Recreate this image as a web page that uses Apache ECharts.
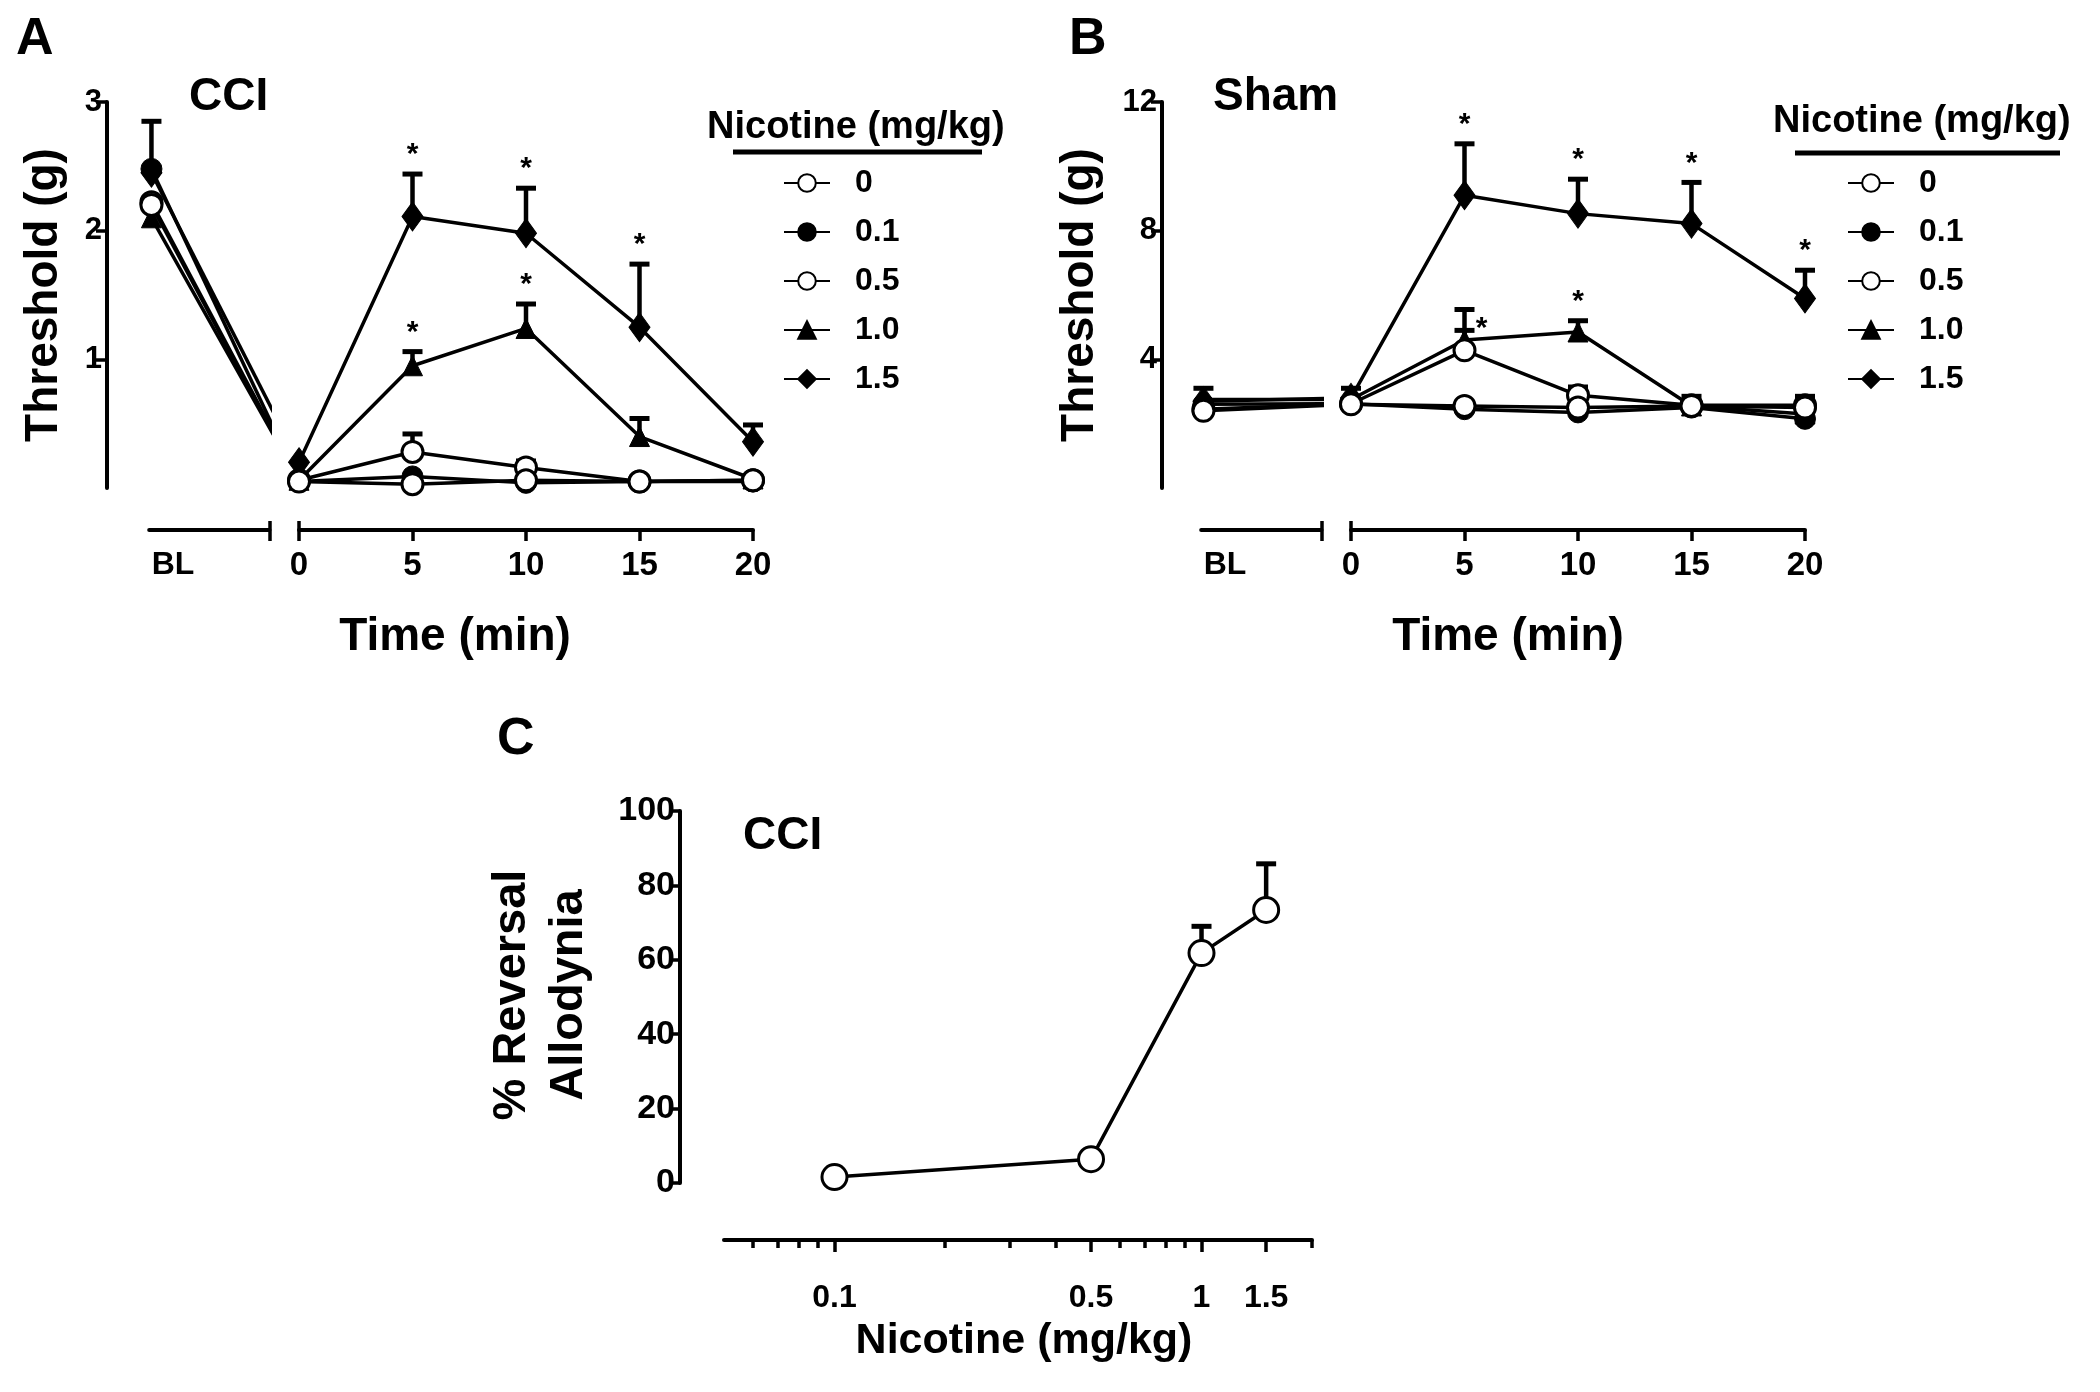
<!DOCTYPE html>
<html><head><meta charset="utf-8">
<script src="https://cdn.jsdelivr.net/npm/echarts@6/dist/echarts.min.js"></script>
<style>html,body{margin:0;padding:0;background:#fff}#chart{width:2100px;height:1392px}</style>
</head><body><div id="chart"></div>
<script>
// ---------------- DATA ----------------
const timePoints = [0, 5, 10, 15, 20];
const doseLabels = ['0', '0.1', '0.5', '1.0', '1.5'];

// Panel A: CCI, threshold (g). Baseline (BL) per dose, then per-dose values at timePoints
const cciBaseline       = [2.20, 2.48, 2.22, 2.10, 2.45];
const cciBaselineErrTop = [null, 2.85, null, null, null];
const cciDose0   = [0.05, 0.03, 0.06, 0.05, 0.06];
const cciDose01  = [0.05, 0.09, 0.04, 0.05, 0.05];
const cciDose05  = [0.06, 0.28, 0.16, 0.05, 0.06];
const cciDose10  = [0.06, 0.95, 1.24, 0.40, 0.07];
const cciDose15  = [0.20, 2.11, 1.98, 1.25, 0.36];
const cciErrTop05 = [null, 0.42, 0.21, null, null];
const cciErrTop10 = [null, 1.06, 1.43, 0.54, null];
const cciErrTop15 = [null, 2.44, 2.33, 1.74, 0.49];
const cciStars10 = [false, true, true, false, false];
const cciStars15 = [false, true, true, true, false];

// Panel B: Sham, threshold (g)
const shamBaseline       = [2.40, 2.60, 2.45, 2.75, 2.70];
const shamBaselineErrTop = [null, null, null, 3.10, null];
const shamDose0  = [2.60, 2.55, 2.50, 2.55, 2.50];
const shamDose01 = [2.62, 2.45, 2.35, 2.50, 2.15];
const shamDose05 = [2.62, 4.28, 2.88, 2.57, 2.57];
const shamDose10 = [2.75, 4.60, 4.85, 2.55, 2.30];
const shamDose15 = [2.80, 9.10, 8.53, 8.22, 5.89];
const shamErrTop05 = [null, 5.55, 3.14, 2.85, 2.85];
const shamErrTop10 = [3.10, 4.90, 5.20, null, null];
const shamErrTop15 = [null, 10.70, 9.60, 9.50, 6.77];
const shamStars10 = [false, true, true, false, false];
const shamStars15 = [false, true, true, true, true];

// Panel C: % reversal of allodynia (CCI)
const reversalDoses  = [0.1, 0.5, 1, 1.5];
const reversalPct    = [1.6, 6.4, 61.8, 73.4];
const reversalErrTop = [null, null, 69.0, 85.8];

// Tick labels
const yTicksA = [1, 2, 3];
const yTicksB = [4, 8, 12];
const yTicksC = [0, 20, 40, 60, 80, 100];
const xTicksCMajor = [0.1, 0.5, 1, 1.5];
const xTicksCMinor = [0.06, 0.07, 0.08, 0.09, 0.2, 0.3, 0.4, 0.6, 0.7, 0.8, 0.9, 2];

// ---------------- LAYOUT / STYLE ----------------
const FONT = "'Liberation Sans', Arial, Helvetica, sans-serif";
const PX = 22.7;            // px per minute
const BL_X = -6.5;          // baseline position on the time scale
const BL_MIN = -6.6;
const BREAK_X = -1.3;
const BL_LABEL_X = -5.55;
const A_T0 = 299, B_T0 = 1351;
const G_TOP = 102, G_H = 386;
const AXIS_W = 4;
const starSideB = {'1.0': [false, true, false, false, false]};

const doseStyles = [
  {symbol: 'circle', size: 21, color: '#ffffff'},
  {symbol: 'circle', size: 21, color: '#000000'},
  {symbol: 'circle', size: 21, color: '#ffffff'},
  {symbol: 'triangle', size: 20, color: '#000000'},
  {symbol: 'diamond', size: [21, 29], color: '#000000'}
];

const cciMeans = [cciDose0, cciDose01, cciDose05, cciDose10, cciDose15];
const cciErrs = [null, null, cciErrTop05, cciErrTop10, cciErrTop15];
const cciStars = [null, null, null, cciStars10, cciStars15];
const shamMeans = [shamDose0, shamDose01, shamDose05, shamDose10, shamDose15];
const shamErrs = [null, null, shamErrTop05, shamErrTop10, shamErrTop15];
const shamStars = [null, null, null, shamStars10, shamStars15];

function errRender(params, api) {
  const x = api.value(0), m = api.value(1), t = api.value(2);
  const a = api.coord([x, m]), b = api.coord([x, t]);
  return {type: 'group', children: [
    {type: 'line', shape: {x1: a[0], y1: a[1], x2: b[0], y2: b[1]}, style: {stroke: '#000', lineWidth: 4.5}},
    {type: 'line', shape: {x1: b[0] - 10, y1: b[1], x2: b[0] + 10, y2: b[1]}, style: {stroke: '#000', lineWidth: 5}}
  ]};
}
function starRender(params, api) {
  const x = api.value(0), t = api.value(1), side = api.value(2);
  const b = api.coord([x, t]);
  return {type: 'text', x: b[0] + (side ? 17 : 0), y: b[1] - (side ? 2 : 19),
    style: {text: '*', font: 'bold 30px ' + FONT, fill: '#000', textAlign: 'center', textVerticalAlign: 'middle'}};
}

function panelSeries(p) {
  const out = [];
  const errData = [], starData = [], blErr = [];
  [4, 3, 1, 2, 0].forEach(i => {
    const st = doseStyles[i];
    const common = {
      type: 'line', name: doseLabels[i], symbol: st.symbol, symbolSize: st.size,
      itemStyle: {color: st.color, borderColor: '#000', borderWidth: st.color === '#ffffff' ? 3 : 1},
      lineStyle: {color: '#000', width: 3.5}, animation: false, clip: true, z: 3
    };
    out.push(Object.assign({}, common, {xAxisIndex: p.xMain, yAxisIndex: p.yMain,
      data: timePoints.map((t, k) => [t, p.means[i][k]])}));
    out.push(Object.assign({}, common, {xAxisIndex: p.xBL, yAxisIndex: p.yBL,
      data: [[BL_X, p.baseline[i]], {value: [0, p.means[i][0]], symbol: 'none'}]}));
    if (p.errs[i]) p.errs[i].forEach((e, k) => { if (e != null) errData.push([timePoints[k], p.means[i][k], e]); });
    if (p.stars[i]) p.stars[i].forEach((s, k) => {
      if (s) {
        const side = p.side && p.side[doseLabels[i]] ? (p.side[doseLabels[i]][k] ? 1 : 0) : 0;
        starData.push([timePoints[k], p.errs[i][k], side]);
      }
    });
    if (p.baselineErr[i] != null) blErr.push([BL_X, p.baseline[i], p.baselineErr[i]]);
  });
  out.push({type: 'custom', name: 'err', xAxisIndex: p.xMain, yAxisIndex: p.yMain, renderItem: errRender, data: errData, z: 2, animation: false});
  out.push({type: 'custom', name: 'errBL', xAxisIndex: p.xBL, yAxisIndex: p.yBL, renderItem: errRender, data: blErr, z: 2, animation: false});
  out.push({type: 'custom', name: 'stars', xAxisIndex: p.xMain, yAxisIndex: p.yMain, renderItem: starRender, data: starData, z: 4, animation: false});
  return out;
}

const lineStyleAxis = {show: true, lineStyle: {color: '#000', width: AXIS_W}, onZero: false};
function ticks(len, vals, inside) { const o = {show: true, inside: !!inside, length: len, lineStyle: {color: '#000', width: 3.5}}; if (vals) o.customValues = vals; return o; }
function labels(size, extra) { return Object.assign({show: true, color: '#000', fontFamily: FONT, fontWeight: 'bold', fontSize: size}, extra || {}); }

const grids = [
  {left: A_T0 + BL_MIN * PX, top: G_TOP, width: (BREAK_X - BL_MIN) * PX, height: G_H},
  {left: A_T0, top: G_TOP, width: 20 * PX, height: G_H},
  {left: B_T0 + BL_MIN * PX, top: G_TOP, width: (BREAK_X - BL_MIN) * PX, height: G_H},
  {left: B_T0, top: G_TOP, width: 20 * PX, height: G_H},
  {left: 724, top: 811, width: 588, height: 372}
].map(g => Object.assign({show: false, containLabel: false, outerBoundsMode: 'none'}, g));

function blXAxis(grid) {
  return {type: 'value', gridIndex: grid, position: 'bottom', min: BL_MIN, max: BREAK_X, offset: 42,
    axisLine: lineStyleAxis, axisTick: ticks(11, [BREAK_X]),
    axisLabel: labels(32, {customValues: [BL_LABEL_X], formatter: () => 'BL', margin: 19}),
    splitLine: {show: false}};
}
function timeXAxis(grid) {
  return {type: 'value', gridIndex: grid, position: 'bottom', min: 0, max: 20, interval: 5, offset: 42,
    axisLine: lineStyleAxis, axisTick: ticks(11),
    axisLabel: labels(33, {margin: 19}), splitLine: {show: false}};
}
function endTickAxis(grid, min, max, val) {
  return {type: 'value', gridIndex: grid, position: 'bottom', min: min, max: max, offset: 42,
    axisLine: {show: false, onZero: false}, axisTick: ticks(9, [val], true),
    axisLabel: {show: false}, splitLine: {show: false}};
}
const xAxes = [
  blXAxis(0), timeXAxis(1), blXAxis(2), timeXAxis(3),
  {type: 'log', logBase: 10, gridIndex: 4, position: 'bottom', min: 0.05, max: 2, offset: 57,
    axisLine: lineStyleAxis, axisTick: ticks(12, xTicksCMajor),
    axisLabel: labels(32, {customValues: xTicksCMajor, margin: 42, formatter: v => String(+(+v).toPrecision(3))}),
    splitLine: {show: false}, minorTick: {show: false}},
  {type: 'log', logBase: 10, gridIndex: 4, position: 'bottom', min: 0.05, max: 2, offset: 57,
    axisLine: {show: false, onZero: false}, axisTick: ticks(8, xTicksCMinor),
    axisLabel: {show: false}, splitLine: {show: false}},
  endTickAxis(0, BL_MIN, BREAK_X, BREAK_X), endTickAxis(1, 0, 20, 0),
  endTickAxis(2, BL_MIN, BREAK_X, BREAK_X), endTickAxis(3, 0, 20, 0)
];
const yAxes = [
  {type: 'value', gridIndex: 0, position: 'left', min: 0, max: 3, offset: A_T0 + BL_MIN * PX - 107,
    axisLine: lineStyleAxis, axisTick: ticks(11, yTicksA), axisLabel: labels(31, {customValues: yTicksA, margin: 5}), splitLine: {show: false}},
  {type: 'value', gridIndex: 1, min: 0, max: 3, show: false, splitLine: {show: false}},
  {type: 'value', gridIndex: 2, position: 'left', min: 0, max: 12, offset: B_T0 + BL_MIN * PX - 1162,
    axisLine: lineStyleAxis, axisTick: ticks(11, yTicksB), axisLabel: labels(31, {customValues: yTicksB, margin: 5}), splitLine: {show: false}},
  {type: 'value', gridIndex: 3, min: 0, max: 12, show: false, splitLine: {show: false}},
  {type: 'value', gridIndex: 4, position: 'left', min: 0, max: 100, interval: 20, offset: 44,
    axisLine: lineStyleAxis, axisTick: ticks(11), axisLabel: labels(34, {customValues: yTicksC, margin: 5}), splitLine: {show: false}}
];

const series = [].concat(
  panelSeries({xBL: 0, yBL: 0, xMain: 1, yMain: 1, baseline: cciBaseline, baselineErr: cciBaselineErrTop, means: cciMeans, errs: cciErrs, stars: cciStars}),
  panelSeries({xBL: 2, yBL: 2, xMain: 3, yMain: 3, baseline: shamBaseline, baselineErr: shamBaselineErrTop, means: shamMeans, errs: shamErrs, stars: shamStars, side: starSideB}),
  [
    {type: 'custom', name: 'errC', xAxisIndex: 4, yAxisIndex: 4, renderItem: errRender, z: 2, animation: false,
      data: reversalDoses.map((d, k) => [d, reversalPct[k], reversalErrTop[k]]).filter(r => r[2] != null)},
    {type: 'line', name: '% Reversal', xAxisIndex: 4, yAxisIndex: 4, symbol: 'circle', symbolSize: 25,
      itemStyle: {color: '#fff', borderColor: '#000', borderWidth: 3}, lineStyle: {color: '#000', width: 3.5}, z: 3, animation: false,
      data: reversalDoses.map((d, k) => [d, reversalPct[k]])}
  ]
);

function legendAt(left) {
  return {orient: 'vertical', left: left, top: 160, itemWidth: 46, itemHeight: 22, itemGap: 13,
    data: doseLabels, selectedMode: false,
    textStyle: {fontFamily: FONT, fontWeight: 'bold', fontSize: 32, color: '#000', lineHeight: 36, padding: [0, 0, 0, 20]}};
}

function txt(text, x, y, size, align, vAlign, rot) {
  const e = {type: 'text', x: x, y: y, style: {text: text, font: 'bold ' + size + 'px ' + FONT, fill: '#000', textAlign: align || 'left', textVerticalAlign: vAlign || 'middle'}};
  if (rot) e.rotation = rot;
  return e;
}
const graphics = [
  txt('A', 16, 40, 52), txt('B', 1069, 40, 52), txt('C', 497, 740, 52),
  txt('CCI', 189, 97, 46), txt('Sham', 1213, 97, 46), txt('CCI', 743, 836, 46),
  txt('Threshold (g)', 44, 295, 46, 'center', 'middle', Math.PI / 2),
  txt('Threshold (g)', 1080, 295, 46, 'center', 'middle', Math.PI / 2),
  txt('Time (min)', 455, 637, 46, 'center'), txt('Time (min)', 1508, 637, 46, 'center'),
  txt('Nicotine (mg/kg)', 707, 128, 38), txt('Nicotine (mg/kg)', 1773, 122, 38),
  {type: 'line', shape: {x1: 733, y1: 152, x2: 982, y2: 152}, style: {stroke: '#000', lineWidth: 5}},
  {type: 'line', shape: {x1: 1795, y1: 153, x2: 2060, y2: 153}, style: {stroke: '#000', lineWidth: 5}},
  txt('% Reversal', 512, 995, 47, 'center', 'middle', Math.PI / 2),
  txt('Allodynia', 569, 995, 47, 'center', 'middle', Math.PI / 2),
  txt('Nicotine (mg/kg)', 1024, 1341, 43, 'center')
];

const chart = echarts.init(document.getElementById('chart'), null, {renderer: 'canvas'});
chart.setOption({
  backgroundColor: '#ffffff',
  animation: false,
  grid: grids,
  xAxis: xAxes,
  yAxis: yAxes,
  legend: [legendAt(778), legendAt(1842)],
  series: series,
  graphic: graphics
});
</script></body></html>
